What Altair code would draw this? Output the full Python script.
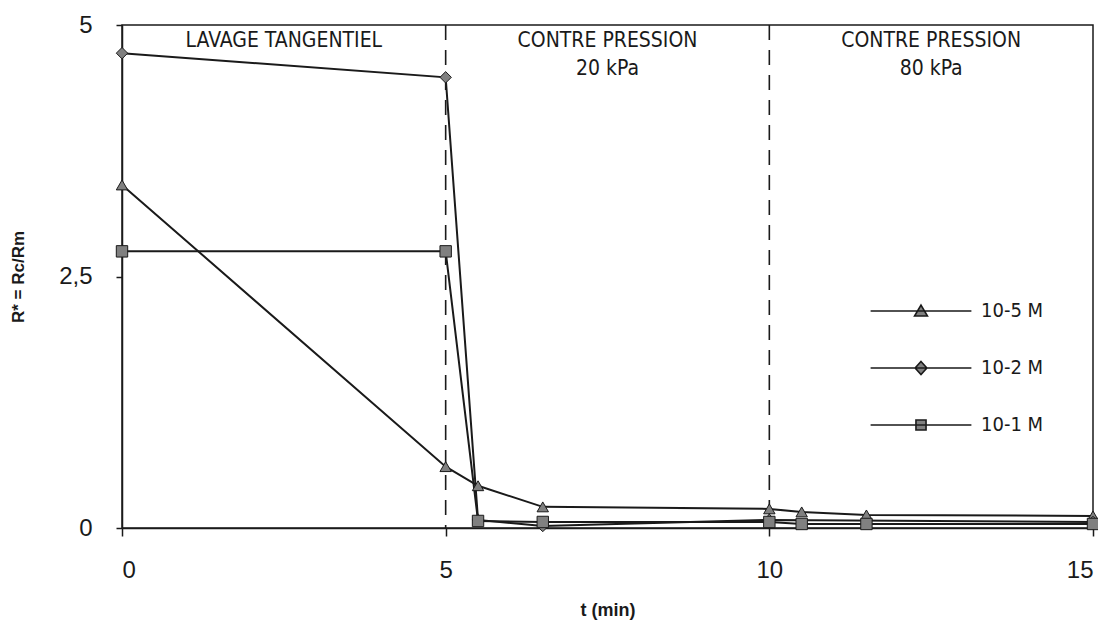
import altair as alt
import pandas as pd

# ---- data ----
series_names = ["10-5 M", "10-2 M", "10-1 M"]

t_105 = [0, 5, 5.5, 6.5, 10, 10.5, 11.5, 15]
r_105 = [3.41, 0.61, 0.42, 0.21, 0.19, 0.16, 0.13, 0.12]

t_102 = [0, 5, 5.5, 6.5, 10, 15]
r_102 = [4.72, 4.48, 0.08, 0.02, 0.08, 0.06]

t_101 = [0, 5, 5.5, 6.5, 10, 10.5, 11.5, 15]
r_101 = [2.75, 2.75, 0.07, 0.06, 0.06, 0.04, 0.04, 0.04]

region_labels = ["LAVAGE TANGENTIEL", "CONTRE PRESSION\n20 kPa", "CONTRE PRESSION\n80 kPa"]
region_start = [0, 5, 10]
region_end = [5, 10, 15]

x_ticks = [0, 5, 10, 15]
y_ticks = [0, 2.5, 5]

# ---- tables ----
rows = []
for name, ts, rs in zip(series_names, [t_105, t_102, t_101], [r_105, r_102, r_101]):
    for t, r in zip(ts, rs):
        rows.append({"series": name, "t": t, "R": r})
df = pd.DataFrame(rows)

regions = pd.DataFrame({"label": region_labels, "start": region_start, "end": region_end})
regions["mid"] = (regions["start"] + regions["end"]) / 2
bounds = pd.DataFrame({"t": region_start[1:]})

NARROW = "Liberation Sans Narrow, DejaVu Sans Condensed, Arial Narrow, sans-serif"
SANS = "Liberation Sans, Arial, sans-serif"
INK = "#1a1a1a"
MARK_FILL = "#808080"

xs = alt.Scale(domain=[x_ticks[0], x_ticks[-1]], nice=False, zero=False)
ys = alt.Scale(domain=[y_ticks[0], y_ticks[-1]], nice=False)

x_axis = alt.Axis(values=x_ticks, format="d", title="t (min)", labelFont=SANS,
                  labelFontSize=24, labelPadding=22, tickSize=8, titleFont=SANS,
                  titleFontSize=18, titleFontWeight="bold", titlePadding=19)
y_axis = alt.Axis(values=y_ticks, title="R* = Rc/Rm", labelFont=SANS, labelFontSize=24,
                  labelPadding=24, tickSize=6,
                  labelExpr="replace(toString(datum.value), '.', ',')", titleFont=SANS,
                  titleFontSize=17, titleFontWeight="bold", titlePadding=31)

X = alt.X("t:Q", scale=xs, axis=x_axis)
Y = alt.Y("R:Q", scale=ys, axis=y_axis)

# legend symbols: a line through the marker (custom SVG paths in unit coordinates)
LINE = "M-1.8,0L1.8,0"
legend_shapes = [
    LINE + "M0,-0.21L0.23,0.18L-0.23,0.18Z",
    LINE + "M0,-0.23L0.21,0L0,0.23L-0.21,0Z",
    LINE + "M-0.18,-0.18L0.18,-0.18L0.18,0.18L-0.18,0.18Z",
]

legend = alt.Legend(
    orient="none", legendX=770, legendY=257, title=None, padding=0, rowPadding=18,
    symbolSize=56 * 56, symbolStrokeWidth=1.6, symbolOpacity=1,
    labelFont=NARROW, labelFontSize=20, labelOffset=31, labelColor=INK,
)

rules = alt.Chart(bounds).mark_rule(strokeDash=[15, 10], color=INK, strokeWidth=1.6).encode(
    x=alt.X("t:Q", scale=xs, axis=x_axis)
)

lines = alt.Chart(df).mark_line(color=INK, strokeWidth=2).encode(
    x=X, y=Y, detail="series:N", order="t:Q"
)

points = alt.Chart(df).mark_point(filled=True, fill=MARK_FILL, stroke=INK, strokeWidth=1,
                                  size=130, opacity=1).encode(
    x=X, y=Y,
    shape=alt.Shape("series:N", sort=series_names,
                    scale=alt.Scale(domain=series_names,
                                    range=["triangle-up", "diamond", "square"]),
                    legend=None),
)

# legend-only layer: no rows drawn, its shape scale carries the legend
legend_layer = alt.Chart(df).transform_filter("false").mark_point(
    filled=False, fill=MARK_FILL, stroke=INK, strokeWidth=1.6, opacity=1
).encode(
    x=X, y=Y,
    shape=alt.Shape("series:N", sort=series_names,
                    scale=alt.Scale(domain=series_names, range=legend_shapes),
                    legend=legend),
)

texts = alt.Chart(regions).mark_text(font=NARROW, fontSize=21, lineBreak="\n",
                                     lineHeight=28, baseline="top", dy=5,
                                     color=INK).encode(
    x=alt.X("mid:Q", scale=xs), y=alt.datum(y_ticks[-1]), text="label:N"
)

chart = alt.layer(rules, lines, points, legend_layer, texts).resolve_scale(
    shape="independent"
).properties(
    width=971, height=503, autosize="none",
    padding={"left": 114, "top": 17, "right": 5, "bottom": 100},
).configure_view(stroke=INK, strokeWidth=1.5).configure_axis(
    grid=False, domainColor=INK, tickColor=INK, domainWidth=1.5, tickWidth=1.5,
    labelColor=INK, titleColor=INK
)

chart.save("out.html", embed_options={"renderer": "svg", "actions": False})
